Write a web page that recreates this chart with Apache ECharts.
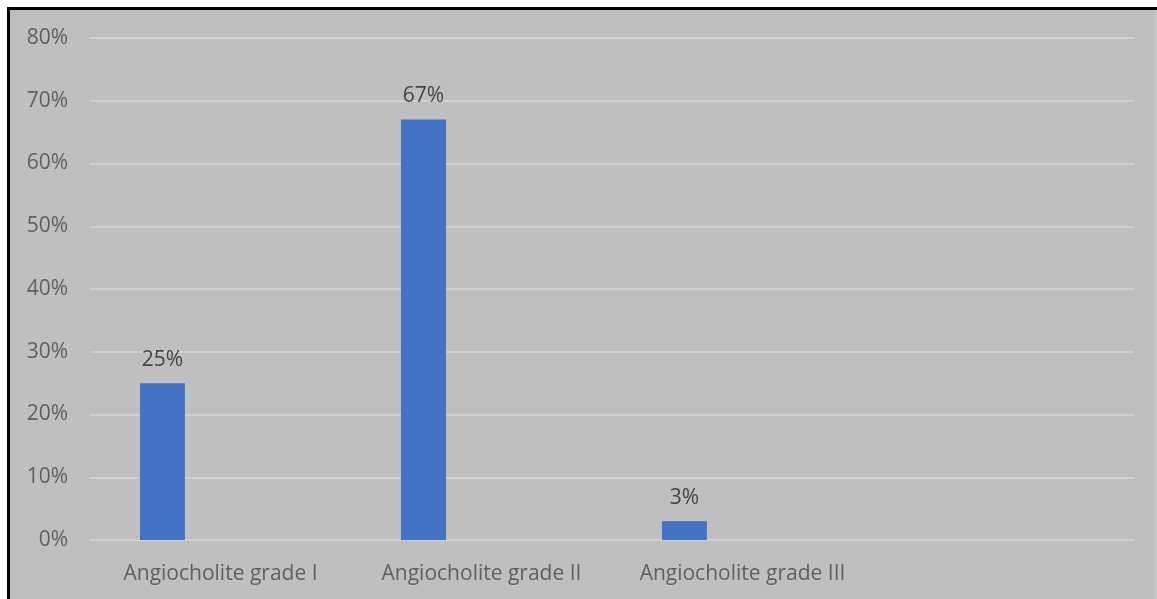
<!DOCTYPE html>
<html>
<head>
<meta charset="utf-8">
<style>
  html, body { margin: 0; padding: 0; background: #bfbfbf; overflow: hidden; width: 1157px; height: 599px; }
  #frame {
    position: absolute; left: 7px; top: 7px; right: 0; bottom: 0;
    border-top: 3px solid #000; border-left: 3px solid #000;
    background: #bfbfbf; overflow: hidden;
  }
  #corner { position: absolute; left: 0; top: 0; width: 1157px; height: 7px; background: #fff; }
  #cornerL { position: absolute; left: 0; top: 0; width: 7px; height: 599px; background: #fff; }
  #edge { position: absolute; right: 0; top: 10px; width: 2px; bottom: 0; background: #c8c8c8; }
  #chart { position: absolute; left: 0; top: 0; width: 1147px; height: 589px; }
</style>
<script src="https://cdn.jsdelivr.net/npm/echarts@6/dist/echarts.min.js"></script>
</head>
<body>
<div id="corner"></div><div id="cornerL"></div>
<div id="frame"><div id="chart"></div></div>
<div id="edge"></div>
<script>
// Share of patients by cholangitis grade
const categories = ['Angiocholite grade I', 'Angiocholite grade II', 'Angiocholite grade III', ''];
const shares = [0.25, 0.67, 0.03, null];
const emptySeries = [null, null, null, null];
const yTicks = { min: 0, max: 0.8, step: 0.1 };

const chart = echarts.init(document.getElementById('chart'), null, { renderer: 'canvas' });
const font = "'Open Sans', 'Liberation Sans', sans-serif";

chart.setOption({
  backgroundColor: '#bfbfbf',
  animation: false,
  grid: { left: 80, right: 23, top: 28, bottom: 59, containLabel: false },
  xAxis: {
    type: 'category',
    data: categories,
    axisLine: { show: false },
    axisTick: { show: false },
    axisLabel: { color: '#606060', fontSize: 21, fontFamily: font, margin: 24, interval: 0 }
  },
  yAxis: {
    type: 'value',
    min: yTicks.min, max: yTicks.max, interval: yTicks.step,
    axisLine: { show: false },
    axisTick: { show: false },
    splitLine: { lineStyle: { color: '#d6d6d6', width: 1.5 } },
    axisLabel: {
      color: '#606060', fontSize: 21, fontFamily: font, margin: 22,
      formatter: v => Math.round(v * 100) + '%'
    }
  },
  series: [
    {
      name: 'Patients',
      type: 'bar',
      data: shares,
      barWidth: 45,
      barGap: '158%',
      itemStyle: { color: '#4472c4' },
      label: {
        show: true, position: 'top', distance: 13,
        color: '#454545', fontSize: 21, fontFamily: font,
        formatter: p => Math.round(p.value * 100) + '%'
      }
    },
    {
      name: 'Other',
      type: 'bar',
      data: emptySeries,
      barWidth: 45,
      itemStyle: { color: '#ed7d31' }
    }
  ]
});
</script>
</body>
</html>
